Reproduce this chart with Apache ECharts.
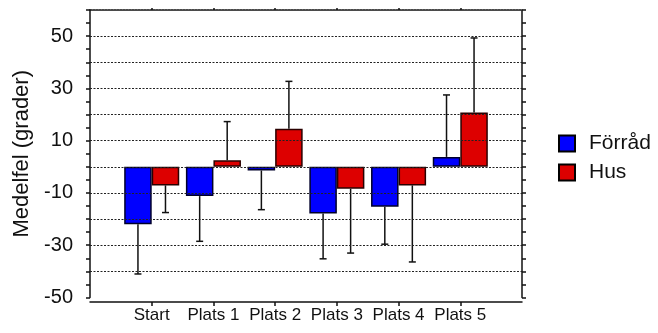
<!DOCTYPE html>
<html>
<head>
<meta charset="utf-8">
<script src="https://cdn.jsdelivr.net/npm/echarts@6/dist/echarts.min.js"></script>
<style>
  html, body { margin: 0; padding: 0; background: #fff; }
  #chart { width: 658px; height: 333px; }
</style>
</head>
<body>
<div id="chart"></div>
<script>
// Mean error per location, two groups, with one-sided error bars (SD)
const categories = ['Start', 'Plats 1', 'Plats 2', 'Plats 3', 'Plats 4', 'Plats 5'];
const forrad = [-22.0, -11.2, -1.4, -17.9, -15.3, 3.8];
const hus = [-7.1, 2.5, 14.6, -8.4, -7.1, 20.8];
const forradErr = [19.0, 17.3, 15.0, 17.3, 14.3, 23.7];
const husErr = [10.4, 14.8, 18.1, 24.6, 29.3, 28.5];
const yTickLabels = [-50, -30, -10, 10, 30, 50];
const gridValues = [-40, -30, -20, -10, 0, 10, 20, 30, 40, 50];

const FONT = '"Liberation Sans", Arial, sans-serif';
const BAR_W = 0.446; // fraction of category band per bar

// padded category list so the frame extends one band beyond the outer groups
const xCats = [''].concat(categories, ['']);
const pad = arr => [null].concat(arr, [null]);

function errData(vals, errs) {
  return vals.map((v, i) => [i + 1, v, errs[i]]);
}

function errRenderer(side) {
  return function (params, api) {
    const idx = api.value(0);
    const v = api.value(1);
    const e = api.value(2);
    const end = v >= 0 ? v + e : v - e;
    const band = api.size([1, 0])[0];
    const p0 = api.coord([idx, v]);
    const p1 = api.coord([idx, end]);
    const x = p0[0] + side * band * BAR_W / 2;
    const cap = 3.5;
    const style = { stroke: '#111', lineWidth: 1.5 };
    return {
      type: 'group',
      children: [
        { type: 'line', shape: { x1: x, y1: p0[1], x2: x, y2: p1[1] }, style: style },
        { type: 'line', shape: { x1: x - cap, y1: p1[1], x2: x + cap, y2: p1[1] }, style: style }
      ]
    };
  };
}

const chart = echarts.init(document.getElementById('chart'), null, { renderer: 'canvas' });

chart.setOption({
  animation: false,
  textStyle: { fontFamily: FONT },
  grid: { left: 90, right: 136, top: 10, bottom: 35.5, containLabel: false },
  legend: {
    data: ['Förråd', 'Hus'],
    orient: 'vertical',
    left: 553,
    top: 128,
    itemWidth: 16,
    itemHeight: 16,
    itemGap: 8,
    icon: 'rect',
    itemStyle: { borderColor: '#000', borderWidth: 2 },
    textStyle: { fontSize: 21, color: '#111', fontFamily: FONT, padding: [0, 0, 0, 9] }
  },
  xAxis: [
    {
      type: 'category',
      data: xCats,
      boundaryGap: false,
      position: 'bottom',
      offset: 4.5,
      axisLine: { show: true, onZero: false, lineStyle: { color: '#111', width: 1.5 } },
      axisTick: {
        show: true, length: 4, lineStyle: { color: '#111', width: 1.5 },
        interval: (i) => i > 0 && i < xCats.length - 1
      },
      axisLabel: { color: '#111', fontSize: 17, margin: 5, interval: 0, fontFamily: FONT },
      splitLine: { show: false }
    },
    {
      type: 'category',
      data: xCats,
      boundaryGap: false,
      position: 'top',
      axisLine: { show: true, onZero: false, lineStyle: { color: '#111', width: 1.5, type: [2, 1] } },
      axisTick: {
        show: true, length: 2, lineStyle: { color: '#111', width: 1.5 },
        interval: (i) => i > 0 && i < xCats.length - 1
      },
      axisLabel: { show: false },
      splitLine: { show: false }
    }
  ],
  yAxis: [
    {
      type: 'value',
      min: -50,
      max: 60,
      interval: 10,
      position: 'left',
      name: 'Medelfel (grader)',
      nameLocation: 'middle',
      nameGap: 44,
      nameTextStyle: { fontSize: 22, color: '#111', fontFamily: FONT },
      axisLine: { show: true, onZero: false, lineStyle: { color: '#111', width: 1.5 } },
      axisTick: { show: true, length: 4, lineStyle: { color: '#111', width: 1.5 } },
      minorTick: { show: true, splitNumber: 2, length: 4, lineStyle: { color: '#111', width: 1.5 } },
      axisLabel: {
        color: '#111', fontSize: 20, margin: 17, fontFamily: FONT,
        formatter: (v) => yTickLabels.indexOf(v) >= 0 ? String(v) : ''
      },
      splitLine: { show: false }
    },
    {
      type: 'value',
      min: -50,
      max: 60,
      interval: 10,
      position: 'right',
      axisLine: { show: true, onZero: false, lineStyle: { color: '#111', width: 1.5 } },
      axisTick: { show: true, length: 4, lineStyle: { color: '#111', width: 1.5 } },
      minorTick: { show: true, splitNumber: 2, length: 4, lineStyle: { color: '#111', width: 1.5 } },
      axisLabel: { show: false },
      splitLine: { show: false }
    }
  ],
  series: [
    {
      name: 'Förråd',
      type: 'bar',
      data: pad(forrad),
      barWidth: (BAR_W * 100) + '%',
      barGap: '0%',
      itemStyle: { color: '#0000FF', borderColor: '#00002a', borderWidth: 1.5 },
      markLine: {
        silent: true,
        symbol: 'none',
        label: { show: false },
        lineStyle: { color: '#222', width: 1.2, type: [2, 1.5] },
        data: gridValues.map(v => ({ yAxis: v }))
      },
      z: 3
    },
    {
      name: 'Hus',
      type: 'bar',
      data: pad(hus),
      barWidth: (BAR_W * 100) + '%',
      barGap: '0%',
      itemStyle: { color: '#DD0000', borderColor: '#2a0000', borderWidth: 1.5 },
      z: 3
    },
    {
      name: 'Förråd SD',
      type: 'custom',
      data: errData(forrad, forradErr),
      encode: { x: 0, y: 1 },
      renderItem: errRenderer(-1),
      z: 4
    },
    {
      name: 'Hus SD',
      type: 'custom',
      data: errData(hus, husErr),
      encode: { x: 0, y: 1 },
      renderItem: errRenderer(1),
      z: 4
    }
  ]
});
</script>
</body>
</html>
